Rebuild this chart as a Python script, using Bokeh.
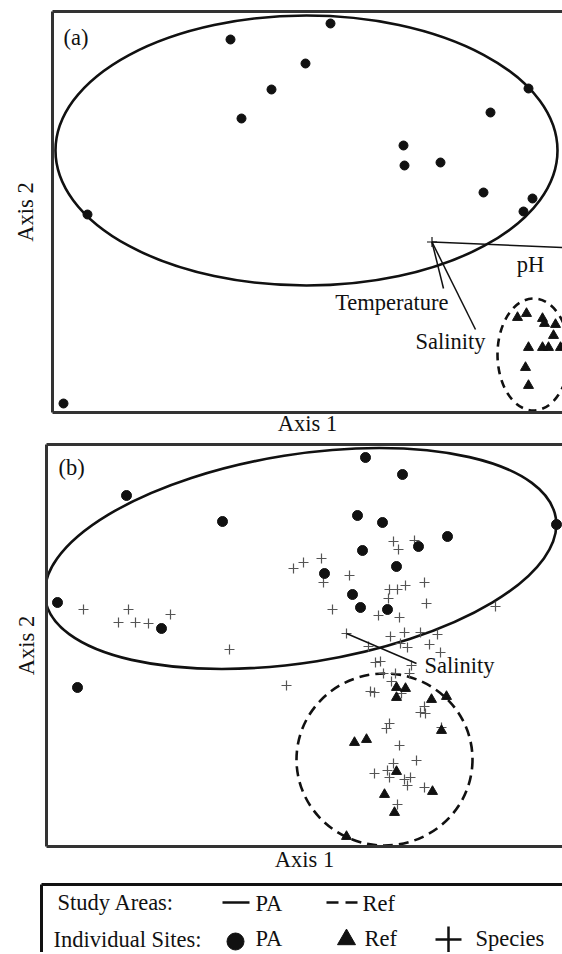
from bokeh.plotting import figure
from bokeh.models import LinearAxis, Range1d, FixedTicker, Grid
from bokeh.layouts import column
from bokeh.embed import file_html
from bokeh.resources import INLINE
from bokeh.core.properties import value

FONT = "Liberation Serif"
FS = "22.5px"

# ---------------- Panel (a) : environmental ordination ----------------
a_pa_axis1 = [11, 178, 278, 253, 219, 189, 351, 352, 388, 438, 476, 431, 480, 471, 35]
a_pa_axis2 = [9, 373, 389, 349, 323, 294, 267, 247, 250, 300, 324, 220, 214, 201, 198]
a_ref_axis1 = [474, 465, 490, 492, 503, 501, 476, 490, 496, 508, 473, 476]
a_ref_axis2 = [99, 95, 94, 89, 88, 77, 65, 65, 65, 65, 45, 27]
a_vec_names = ["pH", "Temperature", "Salinity"]
a_vec_origin1 = 379.5
a_vec_origin2 = 170.5
a_vec_end1 = [545, 391, 423]
a_vec_end2 = [163.5, 124, 83]
a_lab_axis1 = [478, 396, 433]
a_lab_axis2 = [148, 110, 71]
a_lab_align = ["center", "right", "right"]
# study-area ellipses: centre1, centre2, width, height, angle(rad)
a_ell_pa = (254, 262, 502, 270, 0.0)
a_ell_ref = (481, 58, 72, 112, 0.0)

# ---------------- Panel (b) : species ordination ----------------
b_pa_axis1 = [80, 176, 11, 115, 31, 319, 356, 311, 336, 401, 510, 372, 316, 350, 278, 306, 314, 341]
b_pa_axis2 = [351, 325, 244, 218, 159, 389, 372, 331, 324, 310, 322, 300, 296, 280, 273, 252, 239, 237]
b_ref_axis1 = [350, 359, 350, 385, 400, 395, 308, 320, 350, 386, 338, 348, 300]
b_ref_axis2 = [159, 158, 149, 147, 150, 116, 104, 107, 75, 55, 52, 34, 10]
b_sp_axis1 = [37, 82, 124, 72, 89, 102, 183, 240, 247, 257, 275, 277, 303, 347, 368, 352,
              343, 351, 359, 378, 342, 380, 286, 332, 353, 449, 300, 344, 358, 374, 391,
              322, 354, 361, 383, 394, 329, 334, 365, 337, 349, 363, 345, 324, 328, 355,
              378, 374, 379, 395, 343, 340, 353, 370, 328, 341, 347, 343, 358, 364, 361,
              378, 351]
b_sp_axis2 = [237, 237, 232, 224, 224, 223, 197, 161, 278, 284, 288, 264, 271, 305, 306, 297,
              257, 257, 261, 264, 248, 243, 237, 231, 229, 240, 213, 210, 214, 214, 212,
              200, 203, 199, 202, 194, 184, 185, 181, 173, 173, 173, 165, 155, 154, 153,
              140, 134, 133, 119, 123, 118, 101, 86, 73, 76, 83, 69, 67, 69, 61,
              59, 42]
b_vec_names = ["Salinity"]
b_vec_origin1 = [300]
b_vec_origin2 = [213]
b_vec_end1 = [370]
b_vec_end2 = [183]
b_lab_axis1 = [378]
b_lab_axis2 = [181]
b_ell_pa = (254, 288, 517, 208, 0.158)
b_ell_ref = (338, 87, 176, 172, 0.0)

# ---------------- Legend ----------------
legend_rows = ["Study Areas:", "Individual Sites:"]
legend_area_labels = ["PA", "Ref"]
legend_site_labels = ["PA", "Ref", "Species"]


def frame_axis(label=None, standoff=5, color="#333333"):
    ax = LinearAxis(ticker=FixedTicker(ticks=[]))
    ax.major_tick_line_color = None
    ax.minor_tick_line_color = None
    ax.major_tick_out = 0
    ax.major_tick_in = 0
    ax.minor_tick_out = 0
    ax.minor_tick_in = 0
    ax.major_label_standoff = 0
    ax.major_label_text_font_size = "0px"
    ax.axis_line_width = 3
    ax.axis_line_color = color
    if label is not None:
        ax.axis_label = label
        ax.axis_label_text_font = FONT
        ax.axis_label_text_font_size = FS
        ax.axis_label_text_font_style = "normal"
        ax.axis_label_text_color = "#111111"
        ax.axis_label_standoff = standoff
    return ax


def strip(p):
    p.outline_line_color = None
    p.background_fill_color = "white"
    p.border_fill_color = "white"
    p.frame_align = False
    for r in list(p.center):
        if isinstance(r, Grid):
            r.visible = False


def make_panel(width, height, xr, yr, left, top, bottom, st_left, st_bottom):
    p = figure(width=width, height=height, x_range=Range1d(*xr), y_range=Range1d(*yr),
               x_axis_location=None, y_axis_location=None, toolbar_location=None,
               output_backend="svg", min_border_left=left, min_border_top=top,
               min_border_bottom=bottom, min_border_right=0)
    strip(p)
    p.add_layout(frame_axis("Axis 2", st_left), "left")
    p.add_layout(frame_axis(None), "above")
    p.add_layout(frame_axis("Axis 1", st_bottom), "below")
    return p


def add_ellipses(p, ell_pa, ell_ref, dash):
    p.ellipse(x=[ell_pa[0]], y=[ell_pa[1]], width=[ell_pa[2]], height=[ell_pa[3]],
              angle=[ell_pa[4]], fill_color=None, line_color="#111111", line_width=2.6)
    p.ellipse(x=[ell_ref[0]], y=[ell_ref[1]], width=[ell_ref[2]], height=[ell_ref[3]],
              angle=[ell_ref[4]], fill_color=None, line_color="#111111", line_width=2.6,
              line_dash=dash)


# ---- panel (a)
pa = make_panel(562, 442, (0, 510), (0, 401), 52, 11, 30, 15, -2)
add_ellipses(pa, a_ell_pa, a_ell_ref, "8 6")
pa.segment(x0=[a_vec_origin1] * 3, y0=[a_vec_origin2] * 3, x1=a_vec_end1, y1=a_vec_end2,
           line_color="#111111", line_width=1.5)
pa.scatter(x=[a_vec_origin1], y=[a_vec_origin2], marker="cross", size=10,
           line_color="#111111", line_width=1.2)
pa.scatter(x=a_pa_axis1, y=a_pa_axis2, marker="circle", size=9, fill_color="#111111",
           line_color="#111111")
pa.scatter(x=a_ref_axis1, y=a_ref_axis2, marker="triangle", size=10, fill_color="#111111",
           line_color="#111111")
for i in range(3):
    pa.text(x=[a_lab_axis1[i]], y=[a_lab_axis2[i]], text=[a_vec_names[i]],
            text_font=value(FONT), text_font_size=FS, text_align=a_lab_align[i],
            text_baseline="middle", text_color="#111111")
pa.text(x=[11], y=[375], text=["(a)"], text_font=value(FONT), text_font_size=FS,
        text_align="left", text_baseline="middle", text_color="#111111")

# ---- panel (b)
pb = make_panel(562, 434, (0, 516), (0, 402), 46, 2, 30, 8, 0)
add_ellipses(pb, b_ell_pa, b_ell_ref, "10 6")
pb.scatter(x=b_sp_axis1, y=b_sp_axis2, marker="cross", size=10, line_color="#555555",
           line_width=1.2)
pb.segment(x0=b_vec_origin1, y0=b_vec_origin2, x1=b_vec_end1, y1=b_vec_end2,
           line_color="#111111", line_width=1.5)
pb.scatter(x=b_pa_axis1, y=b_pa_axis2, marker="circle", size=10, fill_color="#111111",
           line_color="#111111")
pb.scatter(x=b_ref_axis1, y=b_ref_axis2, marker="triangle", size=10, fill_color="#111111",
           line_color="#111111")
pb.text(x=b_lab_axis1, y=b_lab_axis2, text=b_vec_names, text_font=value(FONT),
        text_font_size=FS, text_align="left", text_baseline="middle", text_color="#111111")
pb.text(x=[12], y=[379], text=["(b)"], text_font=value(FONT), text_font_size=FS,
        text_align="left", text_baseline="middle", text_color="#111111")

# ---- legend box
pl = figure(width=562, height=76, x_range=Range1d(0, 521), y_range=Range1d(0, 68),
            x_axis_location=None, y_axis_location=None, toolbar_location=None,
            output_backend="svg", min_border_left=41, min_border_top=8,
            min_border_bottom=0, min_border_right=0)
strip(pl)
pl.add_layout(frame_axis(None, color="#111111"), "left")
pl.add_layout(frame_axis(None, color="#111111"), "above")
row_y = [50, 13]
txt = dict(text_font=value(FONT), text_font_size=FS, text_baseline="middle",
           text_color="#111111", text_align="left")
pl.text(x=[16, 12], y=row_y, text=legend_rows, **txt)
# study areas row
pl.segment(x0=[181], y0=[row_y[0]], x1=[208], y1=[row_y[0]], line_color="#111111", line_width=2.5)
pl.segment(x0=[285], y0=[row_y[0]], x1=[317], y1=[row_y[0]], line_color="#111111",
           line_width=2.5, line_dash="12 7")
pl.text(x=[214, 321], y=[row_y[0] - 1] * 2, text=legend_area_labels, **txt)
# individual sites row
pl.scatter(x=[194], y=[row_y[1] - 2], marker="circle", size=17, fill_color="#111111",
           line_color="#111111")
pl.scatter(x=[305], y=[row_y[1]], marker="triangle", size=18, fill_color="#111111",
           line_color="#111111")
pl.scatter(x=[407], y=[row_y[1]], marker="cross", size=26, line_color="#111111",
           line_width=2.5)
pl.text(x=[214, 323, 434], y=[row_y[1] + 1] * 3, text=legend_site_labels, **txt)

layout = column(pa, pb, pl, spacing=0)
open("out.html", "w").write(file_html(layout, INLINE))
